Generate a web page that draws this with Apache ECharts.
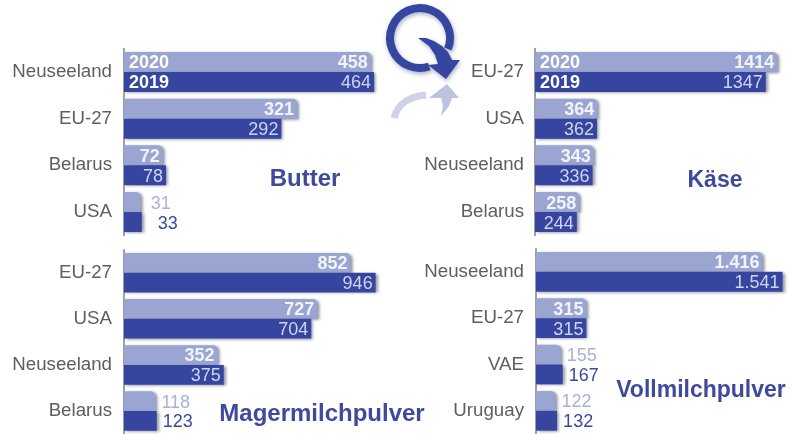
<!DOCTYPE html>
<html><head><meta charset="utf-8">
<style>html,body{margin:0;padding:0;background:#fff}#c{width:792px;height:434px;filter:blur(0.55px)}</style>
<script src="https://cdn.jsdelivr.net/npm/echarts@6/dist/echarts.min.js"></script>
</head><body><div id="c"></div>
<script>
const butterCats = ['Neuseeland','EU-27','Belarus','USA'];
const butter2020 = [458,321,72,31];
const butter2019 = [464,292,78,33];
const kaeseCats = ['EU-27','USA','Neuseeland','Belarus'];
const kaese2020 = [1414,364,343,258];
const kaese2019 = [1347,362,336,244];
const magerCats = ['EU-27','USA','Neuseeland','Belarus'];
const mager2020 = [852,727,352,118];
const mager2019 = [946,704,375,123];
const vollCats = ['Neuseeland','EU-27','VAE','Uruguay'];
const voll2020 = [1416,315,155,122];
const voll2019 = [1541,315,167,132];
const legendYears = ['2020','2019'];
const titles = ['Butter','Käse','Magermilchpulver','Vollmilchpulver'];

const LIGHT='#9aa5d2', DARK='#36459f';
const panels = [
 {cats:butterCats,a:butter2020,b:butter2019,left:124,top:48.6,w:269.5,max:500,insideMin:60,distA:10,distB:16,margin:12,dec:false,tx:305,ty:167,fs:24},
 {cats:kaeseCats,a:kaese2020,b:kaese2019,left:535,top:48.6,w:267,max:1500,insideMin:200,distA:6,distB:6,margin:11,dec:false,tx:715,ty:169,fs:23},
 {cats:magerCats,a:mager2020,b:mager2019,left:124,top:249.7,w:266,max:1000,insideMin:200,distA:6,distB:6,margin:12,dec:false,tx:322,ty:402,fs:24},
 {cats:vollCats,a:voll2020,b:voll2019,left:536,top:248.7,w:262,max:1600,insideMin:200,distA:6,distB:6,margin:12,dec:true,tx:701,ty:379,fs:23}
];
const fmt=(v,dec)=> dec&&v>=1000 ? String(v).replace(/(\d)(\d{3})$/,'$1.$2') : String(v);
const grid=[],xAxis=[],yAxis=[],series=[],title=[];
panels.forEach((p,i)=>{
  grid.push({left:p.left,top:p.top,width:p.w,height:186.8,containLabel:false});
  xAxis.push({gridIndex:i,type:'value',min:0,max:p.max,show:false});
  yAxis.push({gridIndex:i,type:'category',inverse:true,data:p.cats,
    axisLine:{show:true,lineStyle:{color:'#7d8188',width:1.5}},axisTick:{show:false},
    axisLabel:{color:'#5c5e63',fontSize:18.7,margin:p.margin,fontFamily:'Liberation Sans'}});
  const mk=(name,vals,color,radius,inCol,outCol,dist,weight)=>({
    name,type:'bar',xAxisIndex:i,yAxisIndex:i,barGap:0,barCategoryGap:'14.3%',
    itemStyle:{color,borderRadius:radius,shadowColor:'rgba(70,75,95,0.6)',shadowBlur:3,shadowOffsetX:2,shadowOffsetY:1},
    data:vals.map(v=>{
      const inside=v>=p.insideMin;
      return {value:v,label:{show:true,position:inside?'insideRight':'right',distance:inside?3:dist,offset:[0,1.5],
        color:inside?inCol:outCol,fontSize:18,fontWeight:inside?weight:'normal',fontFamily:'Liberation Sans',
        formatter:()=>fmt(v,p.dec)}};
    })
  });
  series.push(mk(legendYears[0],p.a,LIGHT,[0,5,0,0],'#f2f4fb','#a9b1d8',p.distA,'bold'));
  series.push(mk(legendYears[1],p.b,DARK,0,'#cfd5f0','#3a4a9f',p.distB,'normal'));
  title.push({text:titles[i],left:p.tx,top:p.ty,padding:0,textAlign:'center',
    textStyle:{color:'#3d4a9e',fontSize:p.fs,fontWeight:'bold',fontFamily:'Liberation Sans'}});
});
const yearText=(t,x,y)=>({type:'text',left:x,top:y,z:50,style:{text:t,fill:'#fff',font:'bold 18px "Liberation Sans"'}});
const shade={shadowColor:'rgba(60,70,130,.45)',shadowBlur:4,shadowOffsetX:1,shadowOffsetY:2};
const logo=[
 {type:'arc',z:40,shape:{cx:420,cy:38,r:30,startAngle:Math.PI*0.12,endAngle:Math.PI*0.40,clockwise:false},style:{fill:'none',stroke:DARK,lineWidth:8,...shade}},
 {type:'polygon',z:41,shape:{points:[[418,38],[426,38],[434,41],[442,46],[448,52],[452,60],[460,60],[446,79],[428,65],[438,64],[435,55],[429,46]]},style:{fill:DARK,...shade}},
 {type:'bezierCurve',z:39,shape:{x1:394,y1:118,x2:426,y2:95,cpx1:398,cpy1:102,cpx2:412,cpy2:96},style:{fill:'none',stroke:'#cfd3e8',lineWidth:7}},
 {type:'polygon',z:39,shape:{points:[[429,98],[447,84],[459,98],[452,98],[449,106],[441,116],[443,106],[441,98]]},style:{fill:'#bcc2e0'}}
];
const chart=echarts.init(document.getElementById('c'),null,{renderer:'canvas'});
chart.setOption({animation:false,backgroundColor:'#fff',grid,xAxis,yAxis,series,title,
  graphic:[yearText(legendYears[0],129,54),yearText(legendYears[1],129,74),yearText(legendYears[0],540,54),yearText(legendYears[1],540,74),...logo]});
</script></body></html>
